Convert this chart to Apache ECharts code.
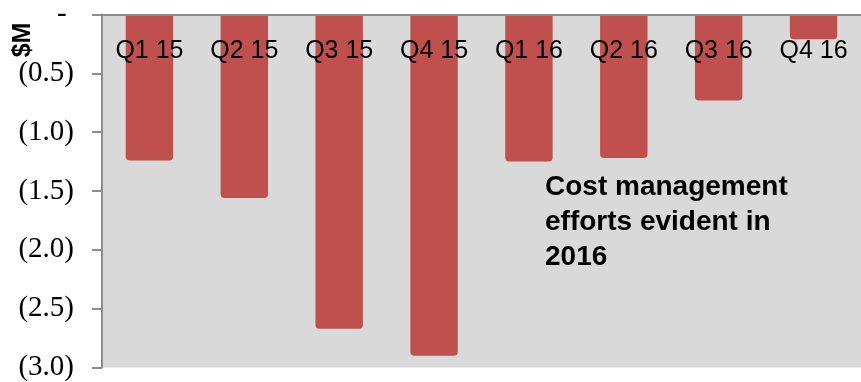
<!DOCTYPE html>
<html><head><meta charset="utf-8">
<script src="https://cdn.jsdelivr.net/npm/echarts@6/dist/echarts.min.js"></script>
<style>html,body{margin:0;padding:0;background:#fff}#c{width:861px;height:382px}</style>
</head><body><div id="c"></div>
<script>
const categories = ['Q1 15','Q2 15','Q3 15','Q4 15','Q1 16','Q2 16','Q3 16','Q4 16'];
const values = [-1.24,-1.56,-2.67,-2.90,-1.25,-1.22,-0.73,-0.21];
const yTicks = [0,-0.5,-1,-1.5,-2,-2.5,-3];
const unitLabel = '$M';
const noteText = 'Cost management\nefforts evident in\n2016';

const chart = echarts.init(document.getElementById('c'));
chart.setOption({
  animation: false,
  grid: {left: 102, right: 0, top: 11, bottom: 14, show: true, backgroundColor: '#d9d9d9', borderWidth: 0},
  xAxis: {
    type: 'category', data: categories, position: 'top', z: 5,
    axisLine: {lineStyle: {color: '#8c8c8c', width: 2}},
    axisTick: {inside: true, length: 7, lineStyle: {color: '#8c8c8c', width: 2}},
    axisLabel: {inside: true, margin: 24, color: '#000', fontFamily: 'Liberation Sans', fontSize: 25}
  },
  yAxis: {
    type: 'value', min: -3, max: 0, interval: 0.5,
    axisLine: {show: true, lineStyle: {color: '#8c8c8c', width: 2}},
    axisTick: {show: true, length: 10, lineStyle: {color: '#8c8c8c', width: 2}},
    splitLine: {show: false},
    axisLabel: {
      margin: 28, color: '#000', fontFamily: 'Liberation Serif', fontSize: 29,
      formatter: v => (yTicks.indexOf(v) < 0) ? '' : (v === 0 ? '- ' : '(' + Math.abs(v).toFixed(1) + ')')
    }
  },
  series: [{
    type: 'bar', data: values, barWidth: '50%',
    itemStyle: {color: '#c0504d', borderRadius: [0, 0, 4, 4]}
  }],
  graphic: [
    {type: 'text', x: 23, y: 40, rotation: Math.PI / 2, z: 10,
     style: {text: unitLabel, font: 'bold 25px "Liberation Sans"', fill: '#000', align: 'center', verticalAlign: 'middle'}},
    {type: 'text', left: 545, top: 170, z: 10,
     style: {text: noteText, font: 'bold 28px "Liberation Sans"', lineHeight: 35, fill: '#000'}}
  ]
});
</script></body></html>
